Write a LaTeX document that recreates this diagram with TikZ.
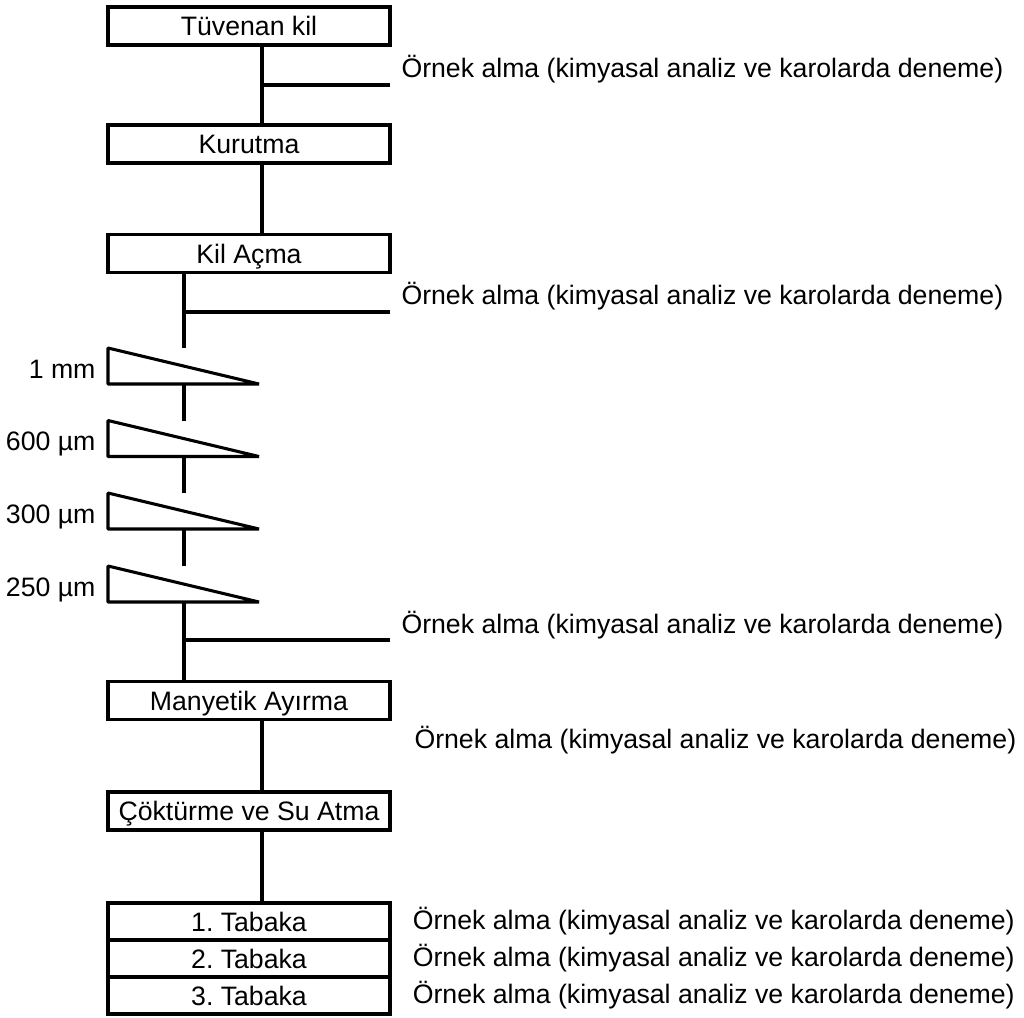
\documentclass[tikz,border=0pt]{standalone}
\usepackage{fontspec}
\setmainfont{Liberation Sans}
\usetikzlibrary{positioning, calc}

\newcommand{\sampletext}{Örnek alma (kimyasal analiz ve karolarda deneme)}

\begin{document}
\frenchspacing
\begin{tikzpicture}[
			x=0.75pt, y=-0.75pt,
			line width=2.3pt,
			box/.style={rectangle, draw, minimum width=211.5pt, minimum height=28.5pt, inner sep=0pt, outer sep=0pt, text height=14.3pt, text depth=0pt, font=\fontsize{20}{24}\selectfont},
			layer/.style={box, minimum height=27.75pt},
			note/.style={inner sep=0pt, font=\fontsize{20}{24}\selectfont},
			sizelabel/.style={inner sep=0pt, anchor=base east, font=\fontsize{20}{24}\selectfont},
			sieve/.style={draw, line join=bevel}
			]
			\useasboundingbox (0,0) rectangle (1024,1017);
			
			% Process Nodes
			\node (raw) [box] at (249,26) {Tüvenan kil};
			\node (dry) [box] at (249,144) {Kurutma};
			\node (crush) [box] at (249,253.5) {Kil Açma};
			\node (magnet) [box] at (249,700.5) {Manyetik Ayırma};
			\node (settle) [box] at (249,811) {Çöktürme ve Su Atma};
			\node (layer1) [layer] at (249,921.5) {1. Tabaka};
			\node (layer2) [layer, below=0pt of layer1] {2. Tabaka};
			\node (layer3) [layer, below=0pt of layer2] {3. Tabaka};
			
			% Trunk lines and sampling taps
			\coordinate (trunk) at (262,0);
			\coordinate (sievetrunk) at (184,0);
			\coordinate (tap1) at (262,85);
			\coordinate (tap2) at (184,312);
			\coordinate (tap3) at (184,640);
			
			% Sieves
			\foreach \y/\size [count=\i] in {348/1 mm, 420.5/600 µm, 493/300 µm, 566/250 µm}{
				\coordinate (sieve\i-in) at (184,\y);
				\coordinate (sieve\i-out) at (184,\y+36);
				\draw [sieve] (108,\y) -- (108,\y+36) -- (259,\y+36) -- cycle;
				\node (size\i) [sizelabel] at (97,\y+30) {\size};
			}
			
			% Sampling Notes
			\node (note1) [note, anchor=base west] at (400,77) {\sampletext};
			\node (note2) [note, anchor=base west] at (400,304) {\sampletext};
			\node (note3) [note, anchor=base west] at (400,633) {\sampletext};
			\node (note4) [note, anchor=base west] at (413,748) {\sampletext};
			\node (note5) [note, right=16pt of layer1] {\sampletext};
			\node (note6) [note, right=16pt of layer2] {\sampletext};
			\node (note7) [note, right=16pt of layer3] {\sampletext};
			
			% Connectors
			\draw (raw.south -| trunk) -- (dry.north -| trunk);
			\draw (dry.south -| trunk) -- (crush.north -| trunk);
			\draw (crush.south -| sievetrunk) -- (sieve1-in);
			\foreach \i/\j in {1/2, 2/3, 3/4}
				\draw (sieve\i-out) -- (sieve\j-in);
			\draw (sieve4-out) -- (magnet.north -| sievetrunk);
			\draw (magnet.south -| trunk) -- (settle.north -| trunk);
			\draw (settle.south -| trunk) -- (layer1.north -| trunk);
			
			% Sampling taps
			\draw (tap1) -- (tap1 -| raw.east);
			\draw (tap2) -- (tap2 -| crush.east);
			\draw (tap3) -- (tap3 -| magnet.east);
		\end{tikzpicture}
\end{document}
